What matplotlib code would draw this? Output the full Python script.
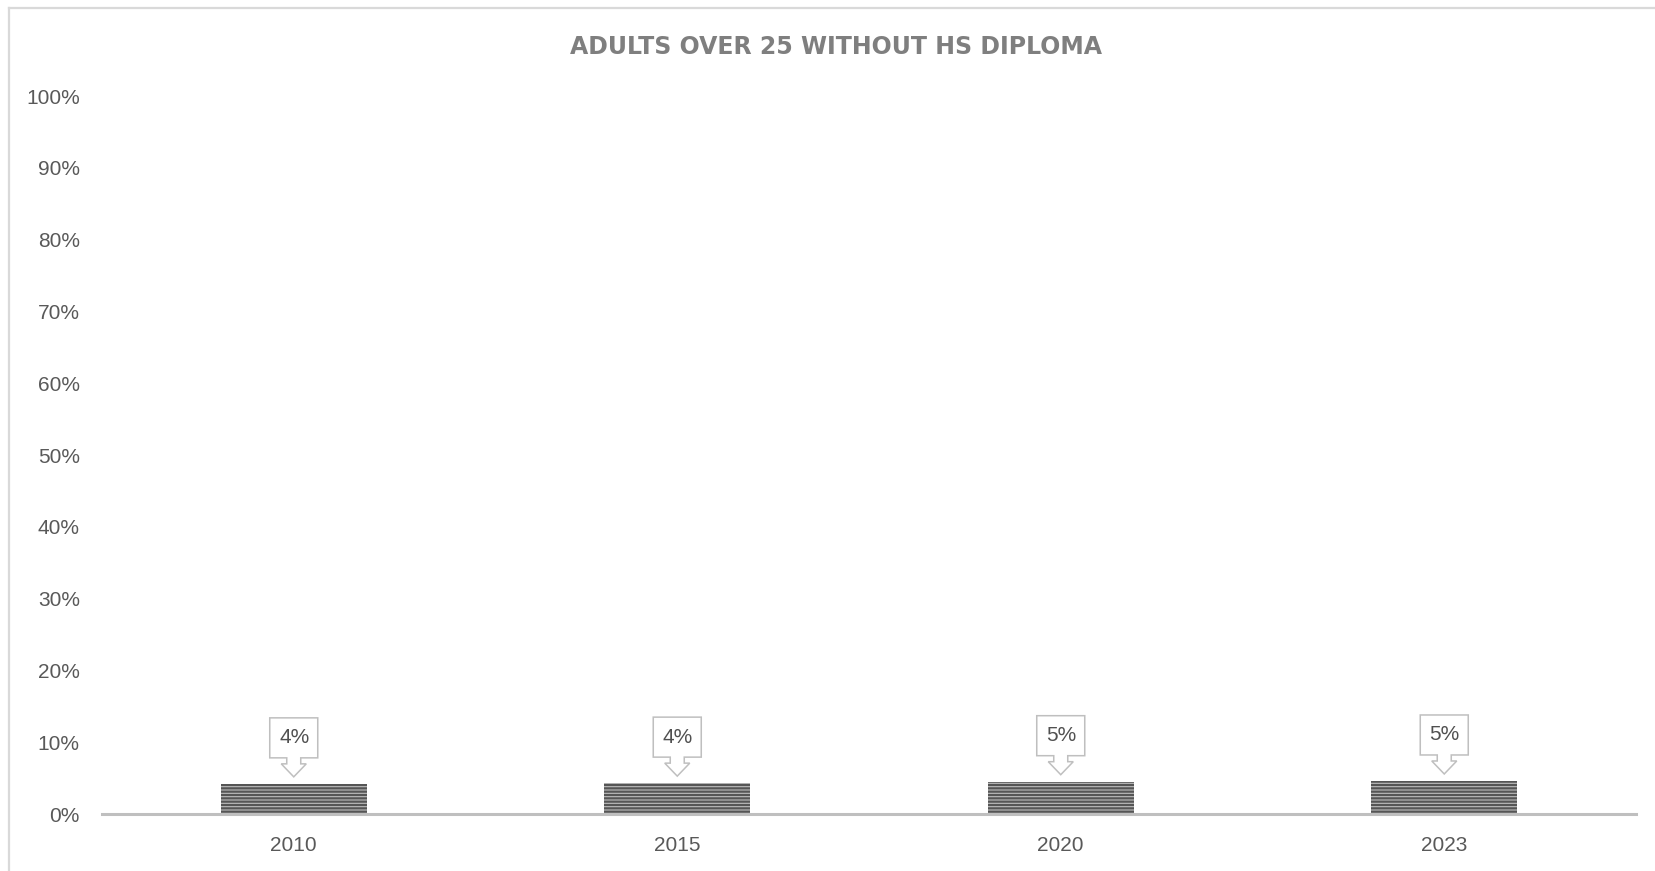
import matplotlib
matplotlib.use("Agg")
import matplotlib.pyplot as plt
from matplotlib.patches import Polygon
from matplotlib.lines import Line2D
from matplotlib.transforms import IdentityTransform

# ---- data ----
title = "ADULTS OVER 25 WITHOUT HS DIPLOMA"
categories = ["2010", "2015", "2020", "2023"]
values = [0.042, 0.043, 0.045, 0.046]
value_labels = ["4%", "4%", "5%", "5%"]
yticks = [0.0, 0.1, 0.2, 0.3, 0.4, 0.5, 0.6, 0.7, 0.8, 0.9, 1.0]
ytick_labels = ["0%", "10%", "20%", "30%", "40%", "50%", "60%", "70%", "80%", "90%", "100%"]

W, H = 1655, 871
plt.rcParams["font.family"] = ["Liberation Sans", "DejaVu Sans"]
plt.rcParams["hatch.linewidth"] = 1.6

fig = plt.figure(figsize=(W / 100, H / 100), dpi=100)
fig.patch.set_facecolor("white")

# chart-area border (light gray), as in reference (top and left visible)
fig.add_artist(Line2D([8.5 / W, 8.5 / W], [0, 1 - 8.5 / H], transform=fig.transFigure,
                      color="#d9d9d9", lw=1.6))
fig.add_artist(Line2D([8.5 / W, 1], [1 - 8.5 / H, 1 - 8.5 / H], transform=fig.transFigure,
                      color="#d9d9d9", lw=1.6))

ax_l, ax_r, ax_b, ax_t = 102, 1636, 814, 96
ax = fig.add_axes([ax_l / W, (H - ax_b) / H, (ax_r - ax_l) / W, (ax_b - ax_t) / H])
ax.set_facecolor("none")

x = list(range(len(categories)))
ax.bar(x, values, width=0.38, color="#bdbdbd", edgecolor="#555555", hatch="-----",
       linewidth=0, zorder=2)

ax.set_xlim(-0.5, len(categories) - 0.5)
ax.set_ylim(0, 1)
ax.set_yticks(yticks)
ax.set_yticklabels(ytick_labels)
ax.set_xticks(x)
ax.set_xticklabels(categories)
ax.tick_params(axis="both", length=0, labelsize=15, labelcolor="#595959")
ax.tick_params(axis="y", pad=16)
ax.tick_params(axis="x", pad=16)
for s in ["top", "right", "left"]:
    ax.spines[s].set_visible(False)
ax.spines["bottom"].set_color("#bfbfbf")
ax.spines["bottom"].set_linewidth(2.2)

# callout data labels
for xi, v, lab in zip(x, values, value_labels):
    px, py = ax.transData.transform((xi, v))
    b = py + 7
    pts = [(-24, 59), (24, 59), (24, 19), (7, 19), (7, 13), (12.5, 13), (0, 0),
           (-12.5, 13), (-7, 13), (-7, 19), (-24, 19)]
    poly = Polygon([(px + dx, b + dy) for dx, dy in pts], closed=True,
                   transform=IdentityTransform(), facecolor="white",
                   edgecolor="#bfbfbf", lw=1.1, clip_on=False, zorder=5)
    fig.add_artist(poly)
    fig.text((px + 0.5) / W, (b + 39) / H, lab, ha="center", va="center",
             fontsize=15, color="#505050", zorder=6)

fig.text(836 / W, 1 - 47 / H, title, ha="center", va="center", fontsize=17,
         fontweight="bold", color="#7f7f7f", family=["DejaVu Sans"])

fig.savefig("out.png", dpi=100)
